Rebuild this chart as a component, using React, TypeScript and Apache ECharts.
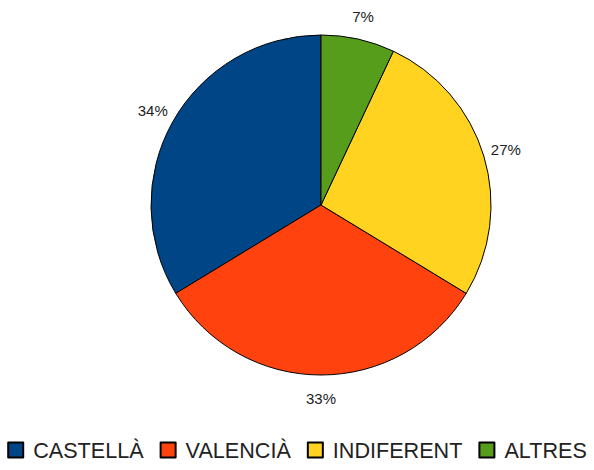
import React, { useEffect, useRef } from "react";
import * as echarts from "echarts";

const categories = ["CASTELLÀ", "VALENCIÀ", "INDIFERENT", "ALTRES"];
const values = [33.7, 32.6, 26.7, 7.0];
const colors = ["#004586", "#ff420e", "#ffd320", "#579d1c"];

export default function App() {
  const ref = useRef<HTMLDivElement>(null);
  useEffect(() => {
    if (!ref.current) return;
    const chart = echarts.init(ref.current, null, { renderer: "svg" });
    const data = categories.map((name, i) => ({
      name,
      value: values[i],
      itemStyle: { color: colors[i] },
    }));
    chart.setOption({
      animation: false,
      backgroundColor: "#ffffff",
      legend: {
        data: categories,
        left: "center",
        bottom: 4,
        itemWidth: 15,
        itemHeight: 15,
        itemGap: 16,
        icon: "rect",
        selectedMode: false,
        textStyle: {
          fontFamily: "Liberation Sans",
          fontSize: 21.6,
          color: "#222",
          padding: [0, 0, 0, 5],
        },
      },
      series: [
        {
          type: "pie",
          center: [321, 205],
          radius: [0, 170],
          startAngle: 90,
          clockwise: false,
          silent: true,
          label: { show: false },
          labelLine: { show: false },
          itemStyle: { borderColor: "#000", borderWidth: 1 },
          emphasis: { disabled: true },
          data,
        },
        {
          type: "pie",
          center: [321, 205],
          radius: [170, 210],
          startAngle: 90,
          clockwise: false,
          silent: true,
          itemStyle: { color: "rgba(0,0,0,0)", borderWidth: 0 },
          emphasis: { disabled: true },
          label: {
            show: true,
            position: "inside",
            fontFamily: "Liberation Sans",
            fontSize: 15,
            color: "#222",
            formatter: (p: any) => Math.round(p.percent) + "%",
          },
          labelLine: { show: false },
          data: categories.map((name, i) => ({ name, value: values[i] })),
        },
      ],
    });
    return () => chart.dispose();
  }, []);
  return (
    <div
      ref={ref}
      style={{ position: "fixed", left: 0, top: 0, width: 594, height: 470 }}
    />
  );
}
